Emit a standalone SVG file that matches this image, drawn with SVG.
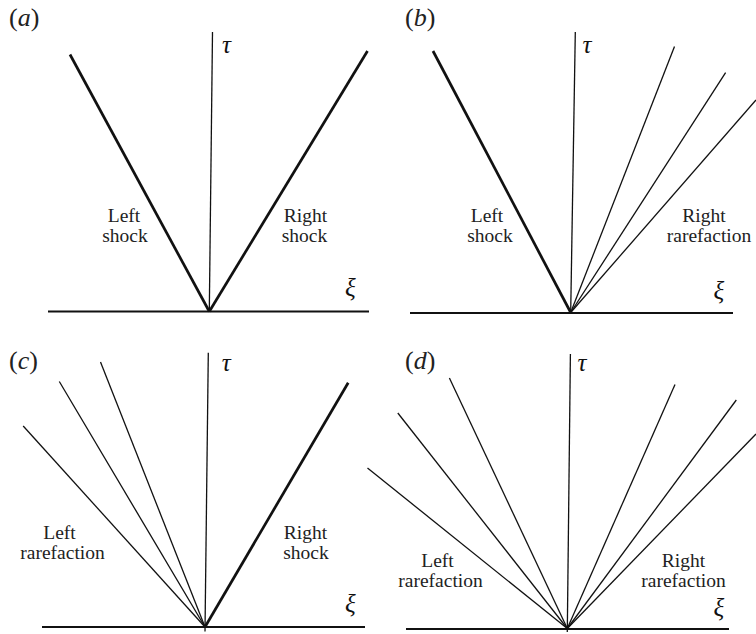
<svg xmlns="http://www.w3.org/2000/svg" width="756" height="634" viewBox="0 0 756 634">
<style>
.bg{fill:#fff}
.ax{stroke:#111;stroke-width:1.8;fill:none}
.vx{stroke:#111;stroke-width:1.3;fill:none}
.sh{stroke:#111;stroke-width:2.7;fill:none;stroke-linecap:butt}
.fn{stroke:#111;stroke-width:1.3;fill:none}
text{font-family:"Liberation Serif","Times New Roman",Times,serif}
.lb{font-size:19.5px;fill:#222;text-anchor:middle}
.pl{font-size:26px;fill:#222}
.gr{font-style:italic;fill:#111;font-size:25px}
.it{font-style:italic}
</style>
<rect class="bg" x="0" y="0" width="756" height="634"/>

<g id="panel-a">
  <text class="pl" x="9" y="26">(<tspan class="it">a</tspan>)</text>
  <line class="ax" x1="48" y1="311.5" x2="369" y2="311.5"/>
  <line class="vx" x1="212.5" y1="32" x2="209.3" y2="311.5"/>
  <line class="sh" x1="70" y1="54.5" x2="209.3" y2="311.5"/>
  <line class="sh" x1="367.5" y1="51" x2="209.3" y2="311.5"/>
  <text class="gr" x="222" y="53">τ</text>
  <text class="gr" x="345" y="296">ξ</text>
  <text class="lb" x="124" y="222">Left</text>
  <text class="lb" x="125" y="242">shock</text>
  <text class="lb" x="305.5" y="222">Right</text>
  <text class="lb" x="304.5" y="242">shock</text>
</g>

<g id="panel-b">
  <text class="pl" x="405" y="26">(<tspan class="it">b</tspan>)</text>
  <line class="ax" x1="410" y1="313" x2="733" y2="313"/>
  <line class="vx" x1="575.3" y1="32" x2="570.7" y2="312.5"/>
  <line class="sh" x1="433" y1="51" x2="570.7" y2="312.5"/>
  <line class="fn" x1="674.5" y1="46.5" x2="570.7" y2="312.5"/>
  <line class="fn" x1="725.6" y1="72.7" x2="570.7" y2="312.5"/>
  <line class="fn" x1="756" y1="100" x2="570.7" y2="312.5"/>
  <text class="gr" x="582.5" y="53">τ</text>
  <text class="gr" x="713.5" y="299">ξ</text>
  <text class="lb" x="487" y="222">Left</text>
  <text class="lb" x="490" y="242">shock</text>
  <text class="lb" x="704" y="222">Right</text>
  <text class="lb" x="709" y="242">rarefaction</text>
</g>

<g id="panel-c">
  <text class="pl" x="9" y="369">(<tspan class="it">c</tspan>)</text>
  <line class="ax" x1="42" y1="627" x2="365" y2="627"/>
  <line class="vx" x1="208.3" y1="352.7" x2="205" y2="631.5"/>
  <line class="fn" x1="100.5" y1="362" x2="205" y2="627"/>
  <line class="fn" x1="59.3" y1="381.5" x2="205" y2="627"/>
  <line class="fn" x1="23.2" y1="426" x2="205" y2="627"/>
  <line class="sh" x1="348.2" y1="382.7" x2="205" y2="627"/>
  <text class="gr" x="221.8" y="371">τ</text>
  <text class="gr" x="345" y="612">ξ</text>
  <text class="lb" x="59.5" y="539">Left</text>
  <text class="lb" x="62.5" y="559">rarefaction</text>
  <text class="lb" x="305.5" y="539">Right</text>
  <text class="lb" x="306" y="559">shock</text>
</g>

<g id="panel-d">
  <text class="pl" x="405" y="369">(<tspan class="it">d</tspan>)</text>
  <line class="ax" x1="406" y1="629" x2="729" y2="629"/>
  <line class="vx" x1="570.4" y1="354" x2="567.3" y2="632"/>
  <line class="fn" x1="449.4" y1="378" x2="567.3" y2="628.5"/>
  <line class="fn" x1="397.8" y1="413" x2="567.3" y2="628.5"/>
  <line class="fn" x1="367.5" y1="468" x2="567.3" y2="628.5"/>
  <line class="fn" x1="675" y1="384.5" x2="567.3" y2="628.5"/>
  <line class="fn" x1="736.3" y1="400" x2="567.3" y2="628.5"/>
  <line class="fn" x1="756" y1="434" x2="567.3" y2="628.5"/>
  <text class="gr" x="577.6" y="371">τ</text>
  <text class="gr" x="713.5" y="616">ξ</text>
  <text class="lb" x="437.5" y="567">Left</text>
  <text class="lb" x="440.5" y="587">rarefaction</text>
  <text class="lb" x="683.5" y="567">Right</text>
  <text class="lb" x="683.5" y="587">rarefaction</text>
</g>
</svg>
